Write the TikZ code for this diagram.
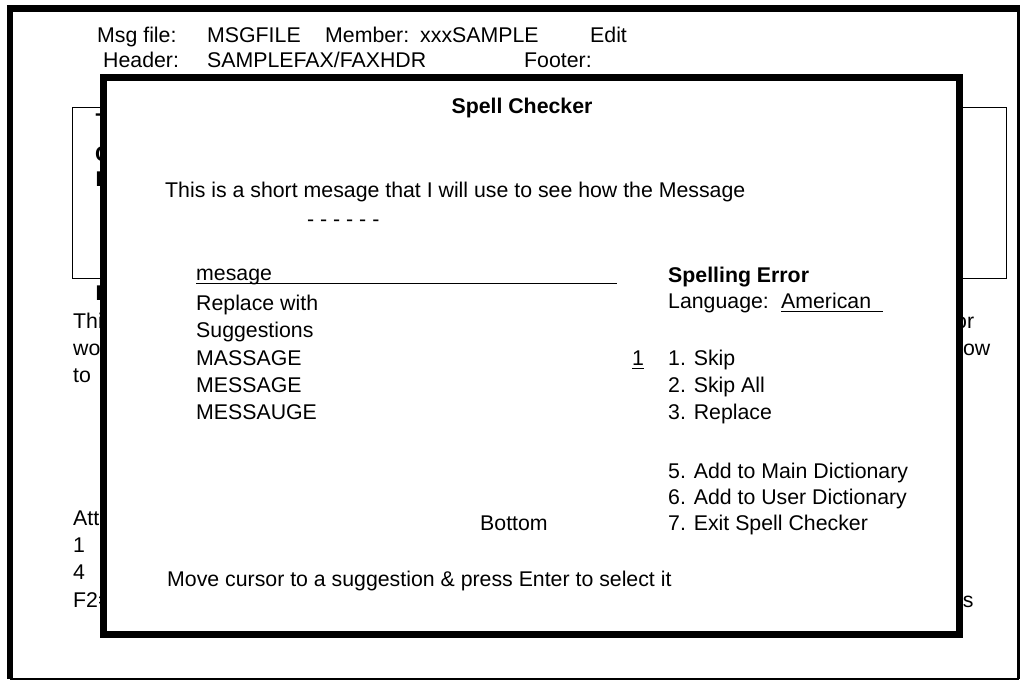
\documentclass[tikz,border=0pt]{standalone}
\usepackage{fontspec}
\setmainfont{Liberation Sans}

\begin{document}
\begin{tikzpicture}[x=1pt, y=-1pt,
  txt/.style={anchor=base west, inner sep=0pt, font=\fontsize{21.3}{25}\selectfont},
  bold/.style={txt, font=\fontsize{21.3}{25}\selectfont\bfseries},
  uline/.style={line width=1pt},
]
\useasboundingbox (0,0) rectangle (1021,681);

% screen frame, heavier on top and left
\coordinate (tl) at (10,8.5);
\coordinate (tr) at (1018.5,8.5);
\coordinate (br) at (1018.5,679);
\coordinate (bl) at (10,679);
\draw[line width=3.5pt] (tr) -- (br);
\draw[line width=2pt] (br) -- (bl);
\draw[line width=6.5pt] (bl) -- (tl);
\draw[line width=7pt] ([xshift=-3.25pt]tl) -- ([xshift=1.75pt]tr);

% message header
\node[txt] (msglbl) at (97,42) {Msg file:};
\node[txt] (msgfile) at (207,42) {MSGFILE};
\node[txt] (memblbl) at (325,42) {Member:};
\node[txt] (member) at (420,42) {xxxSAMPLE};
\node[txt] (mode) at (590,42) {Edit};
\node[txt] (hdrlbl) at (103,67) {Header:};
\node[txt] (hdr) at (207,67) {SAMPLEFAX/FAXHDR};
\node[txt] (ftrlbl) at (524,67) {Footer:};

% text box behind the popup
\draw[line width=1pt] (72,107) rectangle (1006,278);
\node[bold] (frag1) at (95.5,128) {T};
\node[bold] (frag2) at (95,161) {C};
\node[bold] (frag3) at (95.5,186) {E};
\node[bold] (frag4) at (95.5,300) {E};

% body lines showing at the sides
\node[txt] (body1) at (73,328) {Thi};
\node[txt] (body2) at (73,355) {wo};
\node[txt] (body3) at (73,382) {to};
\node[txt] (body1r) at (955,328) {or};
\node[txt] (body2r) at (951,355) {how};
\node[txt] (att) at (73,525) {Att};
\node[txt] (att1) at (73,552) {1};
\node[txt] (att4) at (73,579) {4};
\node[txt] (fkeys) at (73,607) {F2=};
\node[txt] (fkeysr) at (952,607) {ys};

% spell checker popup
\draw[line width=7pt, fill=white] (103.5,77.5) rectangle (959.5,634.5);
\node[bold, anchor=base] (title) at (522,113) {Spell Checker};

\node[txt] (sentence) at (165,197) {This is a short mesage that I will use to see how the Message};
\node[txt] (marks) at (307,226) {- - - - - -};

\node[txt] (word) at (196,280) {mesage};
\coordinate (wordend) at (617,283);
\draw[uline] ([yshift=-3pt]word.base west) -- (wordend);
\node[txt] (repl) at (196,310) {Replace with};
\node[txt] (sugg) at (196,337) {Suggestions};
\node[txt] (sugg1) at (196,365) {MASSAGE};
\node[txt] (sugg2) at (196,392) {MESSAGE};
\node[txt] (sugg3) at (196,419) {MESSAUGE};
\node[txt] (bottom) at (480,530) {Bottom};

\node[bold] (errtitle) at (668,282) {Spelling Error};
\node[txt] (langlbl) at (668,308) {Language:};
\node[txt] (lang) at (781,308) {American};
\coordinate (langend) at (883,311);
\draw[uline] ([yshift=-3pt]lang.base west) -- (langend);

\node[txt] (choice) at (632,365) {1};
\draw[uline] ([yshift=-3pt]choice.base west) -- ([yshift=-3pt]choice.base east);
\node[txt] (opt1) at (668,365) {1. Skip};
\node[txt] (opt2) at (668,392) {2. Skip All};
\node[txt] (opt3) at (668,419) {3. Replace};
\node[txt] (opt5) at (668,478) {5. Add to Main Dictionary};
\node[txt] (opt6) at (668,504) {6. Add to User Dictionary};
\node[txt] (opt7) at (668,530) {7. Exit Spell Checker};

\node[txt] (hint) at (167,586) {Move cursor to a suggestion \& press Enter to select it};
\end{tikzpicture}
\end{document}
